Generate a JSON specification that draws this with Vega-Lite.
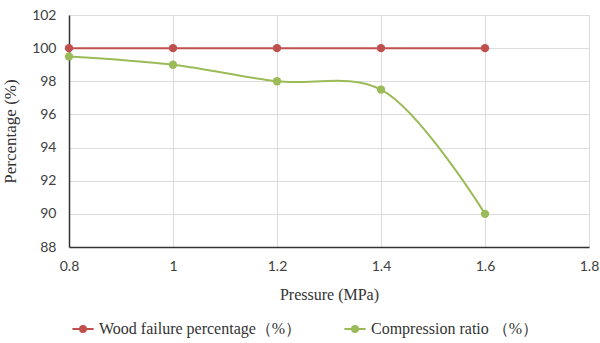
{
  "$schema": "https://vega.github.io/schema/vega-lite/v6.json",
  "width": 520,
  "height": 232,
  "autosize": {"type": "none"},
  "padding": {"left": 69, "top": 15, "right": 11, "bottom": 96},
  "background": "white",
  "data": {
    "values": [
      {"pressure": 0.8, "value": 100, "series": "Wood failure percentage（%）"},
      {"pressure": 1.0, "value": 100, "series": "Wood failure percentage（%）"},
      {"pressure": 1.2, "value": 100, "series": "Wood failure percentage（%）"},
      {"pressure": 1.4, "value": 100, "series": "Wood failure percentage（%）"},
      {"pressure": 1.6, "value": 100, "series": "Wood failure percentage（%）"},
      {"pressure": 0.8, "value": 99.5, "series": "Compression ratio （%）"},
      {"pressure": 1.0, "value": 99, "series": "Compression ratio （%）"},
      {"pressure": 1.2, "value": 98, "series": "Compression ratio （%）"},
      {"pressure": 1.4, "value": 97.5, "series": "Compression ratio （%）"},
      {"pressure": 1.6, "value": 90, "series": "Compression ratio （%）"}
    ]
  },
  "encoding": {
    "x": {
      "field": "pressure", "type": "quantitative",
      "scale": {"domain": [0.8, 1.8], "nice": false, "zero": false},
      "axis": {
        "values": [0.8, 1, 1.2, 1.4, 1.6, 1.8], "format": "~g",
        "title": "Pressure (MPa)", "titleFont": "Liberation Serif", "titleFontSize": 16, "titleFontWeight": "normal", "titleColor": "#333333", "titlePadding": 13,
        "labelFont": "Lato", "labelFontSize": 14, "labelColor": "#404040", "labelPadding": 12,
        "ticks": false, "domainColor": "#333333", "domainWidth": 1.5,
        "grid": true, "gridColor": "#dcdcdc", "labelFlush": false
      }
    },
    "y": {
      "field": "value", "type": "quantitative",
      "scale": {"domain": [88, 102], "nice": false, "zero": false},
      "axis": {
        "values": [88, 90, 92, 94, 96, 98, 100, 102],
        "title": "Percentage (%)", "titleFont": "Liberation Serif", "titleFontSize": 17, "titleFontWeight": "normal", "titleColor": "#333333", "titlePadding": 12,
        "labelFont": "Lato", "labelFontSize": 14, "labelColor": "#404040", "labelPadding": 13,
        "ticks": false, "domainColor": "#333333", "domainWidth": 1.5,
        "grid": true, "gridColor": "#dcdcdc"
      }
    },
    "color": {
      "field": "series", "type": "nominal",
      "sort": ["Wood failure percentage（%）", "Compression ratio （%）"],
      "scale": {"domain": ["Wood failure percentage（%）", "Compression ratio （%）"], "range": ["#c0504d", "#9bbb59"]},
      "legend": {
        "title": null, "orient": "none", "direction": "horizontal",
        "legendX": 2, "legendY": 302,
        "labelFont": "Liberation Serif", "labelFontSize": 16, "labelColor": "#333333", "labelLimit": 400,
        "symbolType": "M-1,0L1,0M-0.28,0A0.28,0.28,0,1,1,0.28,0A0.28,0.28,0,1,1,-0.28,0Z",
        "symbolSize": 450, "symbolStrokeWidth": 2, "columnPadding": 38
      }
    }
  },
  "layer": [
    {"mark": {"type": "line", "interpolate": "catmull-rom", "strokeWidth": 2}},
    {"mark": {"type": "point", "filled": true, "size": 70, "opacity": 1}}
  ]
}
